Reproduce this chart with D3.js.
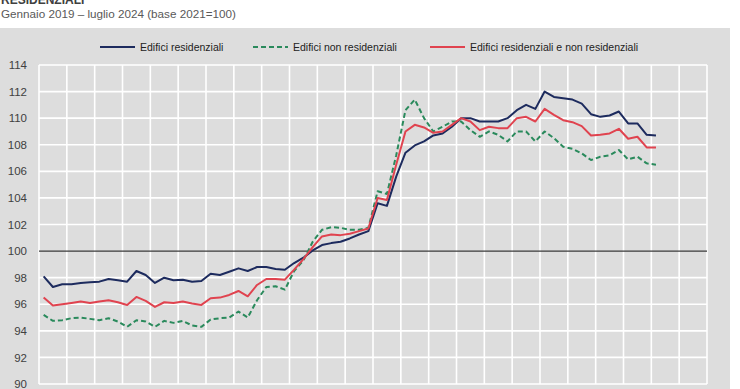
<!DOCTYPE html>
<html>
<head>
<meta charset="utf-8">
<script src="https://cdn.jsdelivr.net/npm/d3@7"></script>
<style>
  body { margin: 0; background: #fff; }
  svg { display: block; font-family: "Liberation Sans", Arial, sans-serif; }
</style>
</head>
<body>
<svg id="chart" width="740" height="389"></svg>
<script>
// monthly index, Jan 2019 .. Jul 2024 (base 2021=100)
const months = d3.range(67);
const yTicks = [90, 92, 94, 96, 98, 100, 102, 104, 106, 108, 110, 112, 114];

const residenziali = [
  98.1, 97.3, 97.5, 97.5, 97.6, 97.65, 97.7, 97.9, 97.8, 97.7,
  98.5, 98.2, 97.6, 98.0, 97.8, 97.85, 97.7, 97.75, 98.3, 98.2,
  98.45, 98.7, 98.5, 98.8, 98.8, 98.65, 98.6, 99.1, 99.5, 100.05,
  100.45, 100.6, 100.7, 100.95, 101.25, 101.5, 103.6, 103.4, 105.6, 107.4,
  107.95, 108.25, 108.7, 108.85, 109.35, 110.0, 110.0, 109.75, 109.75, 109.75,
  110.0, 110.6, 111.0, 110.7, 112.0, 111.6, 111.5, 111.4, 111.1, 110.3,
  110.1, 110.2, 110.5, 109.6, 109.6, 108.75, 108.7
];
const nonResidenziali = [
  95.2, 94.75, 94.8, 94.95, 95.0, 94.9, 94.8, 94.95, 94.7, 94.3,
  94.8, 94.7, 94.3, 94.75, 94.6, 94.75, 94.4, 94.3, 94.85, 94.95,
  95.0, 95.45, 95.0, 96.3, 97.3, 97.35, 97.1, 98.5, 99.3, 100.7,
  101.6, 101.8, 101.75, 101.6, 101.6, 101.75, 104.5, 104.3, 107.2, 110.6,
  111.4, 110.0, 109.0, 109.35, 109.75, 109.75, 109.1, 108.6, 109.0, 108.75,
  108.25, 109.0, 109.0, 108.25, 109.0, 108.5, 107.85, 107.7, 107.35, 106.85,
  107.1, 107.2, 107.6, 106.9, 107.1, 106.6, 106.5
];
const totale = [
  96.5, 95.9, 96.0, 96.1, 96.2, 96.1, 96.2, 96.3, 96.15, 95.95,
  96.55, 96.25, 95.8, 96.15, 96.1, 96.2, 96.05, 95.95, 96.45, 96.5,
  96.7, 97.0, 96.6, 97.45, 97.9, 97.9, 97.85, 98.6, 99.4, 100.3,
  101.1, 101.25, 101.2, 101.3, 101.5, 101.7, 104.0, 103.85, 106.5, 109.0,
  109.5, 109.3, 108.9, 109.0, 109.5, 110.0, 109.75, 109.1, 109.35, 109.25,
  109.25, 110.0, 110.1, 109.75, 110.7, 110.25, 109.85, 109.7, 109.4, 108.7,
  108.75, 108.85, 109.2, 108.45, 108.6, 107.8, 107.8
];

const series = [
  { name: 'Edifici residenziali', values: residenziali, color: '#1d2b5e', dash: null },
  { name: 'Edifici non residenziali', values: nonResidenziali, color: '#2a8a5c', dash: '5,3' },
  { name: 'Edifici residenziali e non residenziali', values: totale, color: '#e0434f', dash: null },
];

const svg = d3.select('#chart');

// titles (first one is cut off at the top, as in the source)
svg.append('text')
  .attr('x', 1).attr('y', 4)
  .style('font-size', '12px').style('font-weight', 'bold').style('fill', '#404040')
  .text('RESIDENZIALI');
svg.append('text')
  .attr('x', 1).attr('y', 18)
  .style('font-size', '11.7px').style('fill', '#595959')
  .text('Gennaio 2019 – luglio 2024 (base 2021=100)');

// gray panel
svg.append('rect')
  .attr('x', 0).attr('y', 28).attr('width', 730).attr('height', 370)
  .style('fill', '#dddddd');

const x = d3.scaleLinear().domain([0, 72]).range([39, 707]);
const y = d3.scaleLinear().domain([90, 114]).range([384, 65]);

// grid
const grid = svg.append('g');
grid.selectAll('line.h')
  .data(yTicks.filter(d => d !== 100))
  .enter().append('line')
  .attr('x1', x(0)).attr('x2', x(72))
  .attr('y1', d => y(d)).attr('y2', d => y(d))
  .style('stroke', '#fff').style('stroke-width', 1.6);
grid.selectAll('line.v')
  .data(d3.range(0, 73, 3))
  .enter().append('line')
  .attr('x1', d => x(d)).attr('x2', d => x(d))
  .attr('y1', y(114)).attr('y2', y(90))
  .style('stroke', '#fff').style('stroke-width', 1.6);

// 100 baseline
svg.append('line')
  .attr('x1', x(0)).attr('x2', x(72))
  .attr('y1', y(100)).attr('y2', y(100))
  .style('stroke', '#3a3a3a').style('stroke-width', 1.3);

// y labels
svg.append('g').selectAll('text')
  .data(yTicks)
  .enter().append('text')
  .attr('x', 27).attr('y', d => y(d))
  .attr('dy', '0.36em')
  .attr('text-anchor', 'end')
  .style('font-size', '11.5px').style('fill', '#404040')
  .text(d => d);

// lines
const line = d3.line()
  .x((d, i) => x(i + 0.5))
  .y(d => y(d));

svg.append('g').selectAll('path')
  .data(series)
  .enter().append('path')
  .attr('d', d => line(d.values))
  .style('fill', 'none')
  .style('stroke', d => d.color)
  .style('stroke-width', 2)
  .style('stroke-linejoin', 'round')
  .style('stroke-dasharray', d => d.dash);

// legend
const legendX = [100, 253, 430];
const legend = svg.append('g').selectAll('g')
  .data(series)
  .enter().append('g')
  .attr('transform', (d, i) => `translate(${legendX[i]},47)`);
legend.append('line')
  .attr('x1', 0).attr('x2', 35)
  .style('stroke', d => d.color)
  .style('stroke-width', 2)
  .style('stroke-dasharray', d => d.dash);
legend.append('text')
  .attr('x', 40).attr('dy', '0.35em')
  .style('font-size', '10.5px').style('fill', '#222')
  .text(d => d.name);
</script>
</body>
</html>
